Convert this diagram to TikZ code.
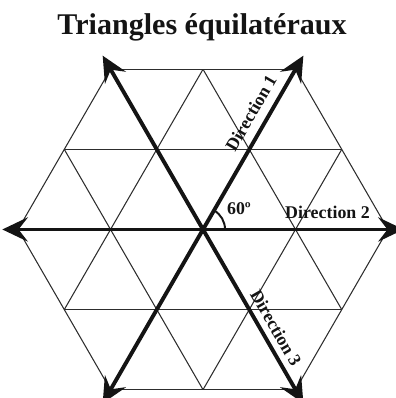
\documentclass[tikz,border=0pt]{standalone}
\usepackage{fontspec}
\setmainfont{Liberation Serif}
\usetikzlibrary{arrows.meta}
\definecolor{gridgray}{RGB}{45,45,45}
\definecolor{axisblack}{RGB}{20,20,20}
\tikzset{
  gridline/.style={draw=gridgray, line width=0.65pt},
  axisline/.style={draw=axisblack, line width=2.4pt,
    {Stealth[length=5.5mm, width=5.2mm, inset=2mm]}-{Stealth[length=5.5mm, width=5.2mm, inset=2mm]}},
  anglearc/.style={draw=axisblack, line width=1.2pt},
  dirlbl/.style={font=\fontsize{11}{12}\selectfont\bfseries, text=axisblack, inner sep=0pt},
  titlelbl/.style={font=\fontsize{18.5}{20}\selectfont\bfseries, text=axisblack, anchor=base},
}
\newcommand{\TIPR}{2.17}
\newcommand{\ARCR}{0.238}

\begin{document}
\begin{tikzpicture}[x=2cm, y=2cm]
\useasboundingbox (-2.195,-1.822) rectangle (2.076,2.481);

% ============================================================ title
\node[titlelbl] (title) at (-0.01, 2.103) {Triangles équilatéraux};

% ============================================================ triangle grid (hexagon, side 2)
\foreach \a in {0, 60, 120}{
  \foreach \k [evaluate=\k as \w using {2-abs(\k)/2}] in {-2,...,2}{
    \draw[gridline, rotate=\a] (-\w, \k*0.8660) -- (\w, \k*0.8660);
  }
}

% ============================================================ axes
\coordinate (o)  at (0, 0);
\coordinate (e)  at (0:\TIPR);
\coordinate (ne) at (60:\TIPR);
\coordinate (nw) at (120:\TIPR);
\coordinate (w)  at (180:\TIPR);
\coordinate (sw) at (240:\TIPR);
\coordinate (se) at (300:\TIPR);

\draw[axisline] (w) -- (e);
\draw[axisline] (sw) -- (ne);
\draw[axisline] (se) -- (nw);

% angle between direction 1 and 2
\draw[anglearc] (\ARCR, 0) arc[start angle=0, end angle=60, radius=\ARCR];

% ============================================================ labels
\node[dirlbl] (ang) at (0.389, 0.222) {60º};
\node[dirlbl, rotate=60] (dir1) at (0.519, 1.259) {Direction 1};
\node[dirlbl, anchor=base] (dir2) at (1.346, 0.114) {Direction 2};
\node[dirlbl, rotate=-60] (dir3) at (0.789, -1.065) {Direction 3};

\end{tikzpicture}
\end{document}
